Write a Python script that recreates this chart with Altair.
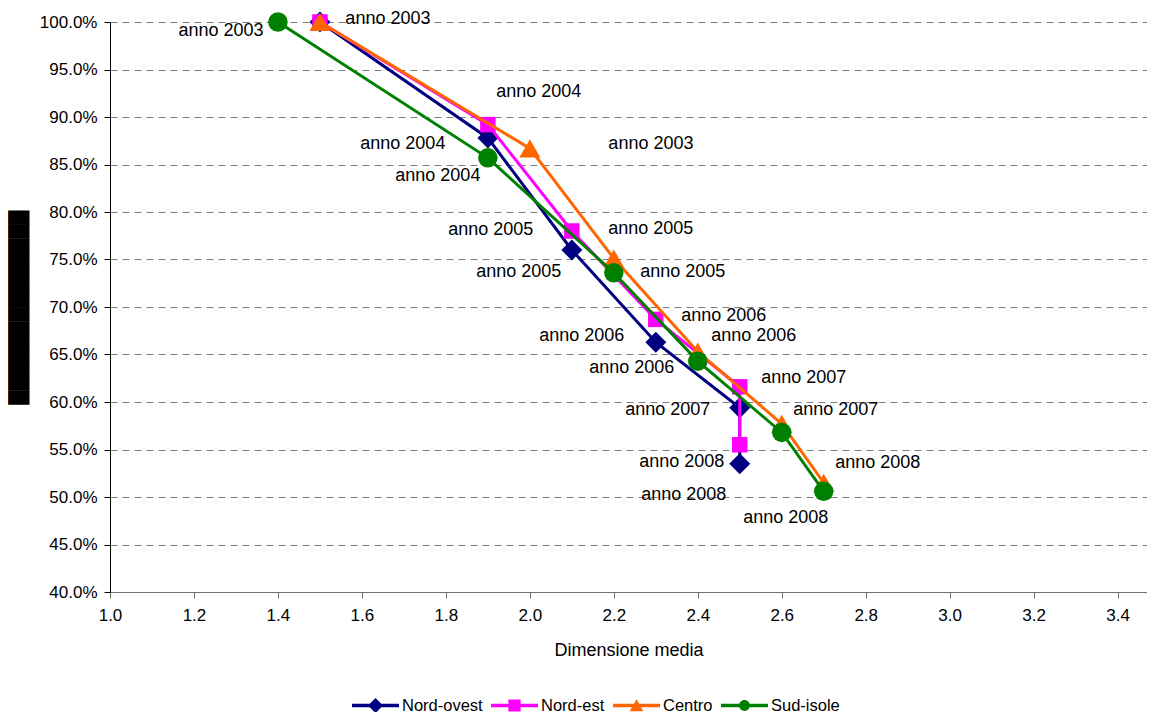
import altair as alt
import pandas as pd

# ---------------- data ----------------
series = ["Nord-ovest", "Nord-est", "Centro", "Sud-isole"]
years = ["anno 2003", "anno 2004", "anno 2005", "anno 2006", "anno 2007", "anno 2008"]

x_nord_ovest = [1.5, 1.9, 2.1, 2.3, 2.5, 2.5]
y_nord_ovest = [1.000, 0.878, 0.760, 0.663, 0.594, 0.535]
x_nord_est = [1.5, 1.9, 2.1, 2.3, 2.5, 2.5]
y_nord_est = [1.000, 0.892, 0.780, 0.687, 0.616, 0.555]
x_centro = [1.5, 2.0, 2.2, 2.4, 2.6, 2.7]
y_centro = [1.000, 0.867, 0.751, 0.653, 0.577, 0.515]
x_sud_isole = [1.4, 1.9, 2.2, 2.4, 2.6, 2.7]
y_sud_isole = [1.000, 0.857, 0.736, 0.643, 0.568, 0.506]

# data labels shown per series ("" where the label is hidden under another one)
labels_nord_ovest = ["anno 2003", "anno 2004", "anno 2005", "anno 2006", "anno 2007", "anno 2008"]
labels_nord_est = ["", "", "anno 2005", "anno 2006", "anno 2007", "anno 2008"]
labels_centro = ["anno 2003", "anno 2004", "anno 2005", "anno 2006", "", "anno 2008"]
labels_sud_isole = ["anno 2003", "anno 2004", "anno 2005", "anno 2006", "anno 2007", "anno 2008"]

x_ticks = [1.0, 1.2, 1.4, 1.6, 1.8, 2.0, 2.2, 2.4, 2.6, 2.8, 3.0, 3.2, 3.4]
y_ticks = [0.40, 0.45, 0.50, 0.55, 0.60, 0.65, 0.70, 0.75, 0.80, 0.85, 0.90, 0.95, 1.00]

# ---------------- styles ----------------
colors = ["#000080", "#FF00FF", "#FF6600", "#008000"]
shapes = ["diamond", "square", "triangle-up", "circle"]
sizes = [441, 240, 441, 380]

# label offsets in pixels (placement of the data labels)
lab_dx = [
    [68, -85, -53, -74, -72, -58],
    [68, 51, -81, 68, 64, -56],
    [331, 9, 37, 56, 54, 54],
    [-57, -50, 69, -66, 54, -38],
]
lab_dy = [
    [-3, 6, 22, -6, 2, -2],
    [-3, -33, -1, -3, -9, 50],
    [122, -56, -30, -16, -14, -20],
    [9, 18, -1, 7, -22, 27],
]

bar = "M-1,-0.07H1V0.07H-1Z"
legend_paths = [
    bar + "M0,-0.32L0.32,0L0,0.32L-0.32,0Z",
    bar + "M-0.26,-0.26H0.26V0.26H-0.26Z",
    bar + "M0,-0.27L0.29,0.24L-0.29,0.24Z",
    bar + "M0.23,0A0.23,0.23 0 1,1 -0.23,0A0.23,0.23 0 1,1 0.23,0Z",
]

xs_all = [x_nord_ovest, x_nord_est, x_centro, x_sud_isole]
ys_all = [y_nord_ovest, y_nord_est, y_centro, y_sud_isole]
labs_all = [labels_nord_ovest, labels_nord_est, labels_centro, labels_sud_isole]

rows = []
for si, s in enumerate(series):
    for i in range(len(years)):
        rows.append({
            "series": s, "idx": i, "year": years[i], "label": labs_all[si][i],
            "x": xs_all[si][i], "y": ys_all[si][i],
            "dx": lab_dx[si][i], "dy": lab_dy[si][i],
        })
df = pd.DataFrame(rows)

FONT = "Liberation Sans"

x_enc = alt.X(
    "x:Q",
    scale=alt.Scale(domain=[1.0, 3.47], nice=False, zero=False),
    axis=alt.Axis(
        values=x_ticks, format=".1f", title="Dimensione media", grid=False,
        domainColor="#707070", tickColor="#707070", tickSize=6, labelPadding=9,
        labelFont=FONT, labelFontSize=17, labelColor="black",
        titleFont=FONT, titleFontSize=18, titleFontWeight="normal", titleColor="black",
        titlePadding=18, labelFlush=False,
    ),
)
y_enc = alt.Y(
    "y:Q",
    scale=alt.Scale(domain=[0.4, 1.0], nice=False, zero=False),
    axis=alt.Axis(
        values=y_ticks, format=".1%", title="█" * 14, grid=True,
        gridColor="#808080", gridDash=[7, 5], gridWidth=1.2,
        domainColor="black", tickColor="black", tickSize=6, labelPadding=7,
        labelFont=FONT, labelFontSize=17, labelColor="black",
        titleFont="DejaVu Sans", titleFontSize=18, titleFontWeight="normal",
        titleColor="black", titlePadding=11,
    ),
)

base = alt.Chart(df)

layers = []
for si, s in enumerate(series):
    sub = base.transform_filter(alt.datum.series == s)
    layers.append(
        sub.mark_line(strokeWidth=3, color=colors[si]).encode(
            x=x_enc, y=y_enc, order=alt.Order("idx:Q")
        )
    )
    layers.append(
        sub.mark_point(filled=True, opacity=1, shape=shapes[si], size=sizes[si], color=colors[si])
        .encode(x=x_enc, y=y_enc)
    )

labels = base.mark_text(
    font=FONT, fontSize=18, color="black", align="center", baseline="middle",
    dx={"expr": "datum.dx"}, dy={"expr": "datum.dy"},
).encode(x=x_enc, y=y_enc, text="label:N")

leg = alt.Legend(
    title=None, orient="none", legendX=242, legendY=660, direction="horizontal",
    labelFont=FONT, labelFontSize=16.5, labelColor="black", labelOffset=3,
    symbolSize=2209, symbolStrokeWidth=0, columnPadding=8, padding=0,
)
legend_layer = base.transform_filter("datum.x < 0").mark_point(filled=True, opacity=1).encode(
    x=x_enc, y=y_enc,
    color=alt.Color("series:N", scale=alt.Scale(domain=series, range=colors), legend=leg),
    shape=alt.Shape("series:N", scale=alt.Scale(domain=series, range=legend_paths), legend=leg),
)

chart = alt.layer(*layers, labels, legend_layer).properties(
    width=1037, height=570,
    autosize=alt.AutoSizeParams(type="none"),
    padding={"left": 102, "top": 14, "right": 0, "bottom": 120},
    background="white",
).configure_view(stroke=None)

chart.save("out.html", embed_options={"renderer": "svg", "actions": False})
